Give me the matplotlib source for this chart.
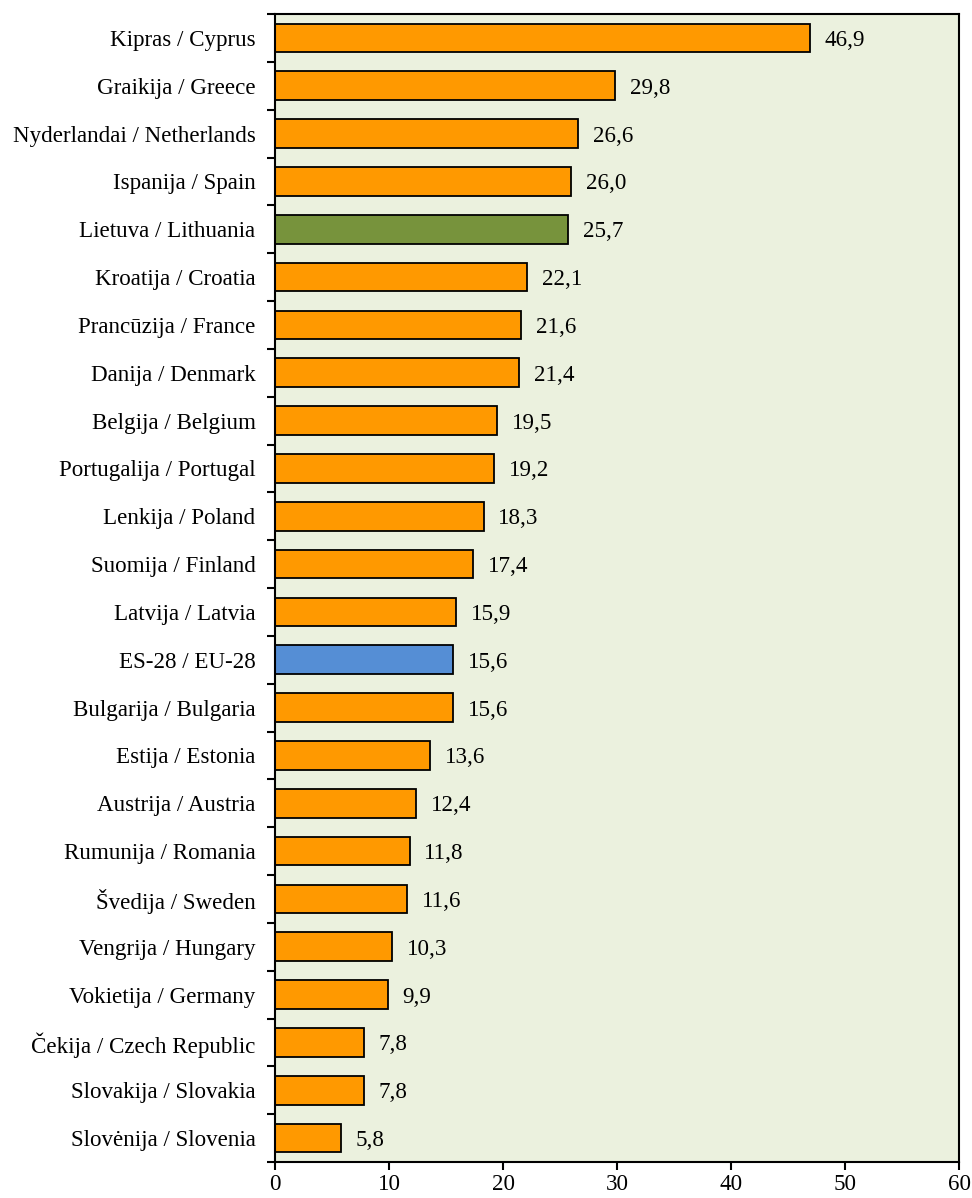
'''plot.py - horizontal bar chart by country, EU-28 and Lithuania highlighted.
'''

import matplotlib.pyplot as plt
from matplotlib.ticker import MultipleLocator

labels = ['Kipras / Cyprus', 'Graikija / Greece', 'Nyderlandai / Netherlands',
          'Ispanija / Spain', 'Lietuva / Lithuania', 'Kroatija / Croatia',
          'Prancūzija / France', 'Danija / Denmark', 'Belgija / Belgium',
          'Portugalija / Portugal', 'Lenkija / Poland', 'Suomija / Finland',
          'Latvija / Latvia', 'ES-28 / EU-28', 'Bulgarija / Bulgaria',
          'Estija / Estonia', 'Austrija / Austria', 'Rumunija / Romania',
          'Švedija / Sweden', 'Vengrija / Hungary', 'Vokietija / Germany',
          'Čekija / Czech Republic', 'Slovakija / Slovakia', 'Slovėnija / Slovenia']
values = [46.9, 29.8, 26.6, 26.0, 25.7, 22.1, 21.6, 21.4, 19.5, 19.2, 18.3, 17.4,
          15.9, 15.6, 15.6, 13.6, 12.4, 11.8, 11.6, 10.3, 9.9, 7.8, 7.8, 5.8]

ORANGE = '#FF9900'
GREEN = '#77933C'
BLUE = '#558ED5'
FS = 16.6


def plot():
  plt.rcParams['font.family'] = ['Liberation Serif', 'DejaVu Serif']
  fig = plt.figure(figsize=(9.72, 11.98), dpi=100)
  ax = fig.add_axes([275 / 972, 36 / 1198, 684 / 972, 1148 / 1198])
  ax.set_facecolor('#EBF1DE')

  colors = []
  for lab in labels:
    if lab.startswith('Lietuva'):
      colors.append(GREEN)
    elif lab.startswith('ES-28'):
      colors.append(BLUE)
    else:
      colors.append(ORANGE)

  y = list(range(len(labels)))
  ax.barh(y, values, height=0.6, color=colors, edgecolor='black', linewidth=1.3)
  for yi, v in zip(y, values):
    ax.text(v + 1.3, yi, f'{v:.1f}'.replace('.', ','), va='center_baseline',
            ha='left', fontsize=FS)

  ax.set_ylim(len(labels) - 0.5, -0.5)
  ax.set_xlim(0, 60)
  ax.xaxis.set_major_locator(MultipleLocator(10))
  ax.set_yticks([i - 0.5 for i in range(len(labels) + 1)])
  ax.set_yticklabels([])
  ax.set_yticks(y, minor=True)
  ax.set_yticklabels(labels, minor=True, fontsize=FS)
  ax.tick_params(axis='y', which='minor', length=0, pad=14)
  ax.tick_params(axis='y', which='major', length=6, width=1.5, direction='out')
  ax.tick_params(axis='x', length=6, width=1.5, labelsize=FS, pad=2.5)
  for s in ax.spines.values():
    s.set_linewidth(1.5)
  return fig


if __name__ == "__main__":
  plot()
  plt.savefig('out.png', dpi=100)
